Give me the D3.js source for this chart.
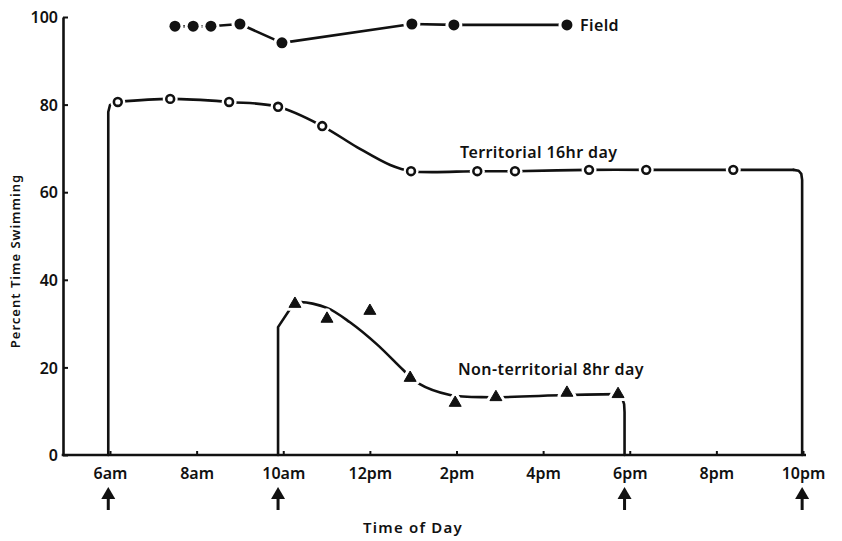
<!DOCTYPE html>
<html>
<head>
<meta charset="utf-8">
<script src="https://cdn.jsdelivr.net/npm/d3@7"></script>
<style>
  html, body { margin: 0; padding: 0; background: #fff; }
  svg { display: block; }
  text { font-family: "Noto Sans", "Open Sans", sans-serif; font-weight: 600; fill: #111; }
</style>
</head>
<body>
<svg id="chart" width="842" height="541"></svg>
<script>
// Hours of the day (6 = 6am, 22 = 10pm) and percent of time spent swimming.
const hourTicks = [6, 8, 10, 12, 14, 16, 18, 20, 22];
const hourTickLabels = ["6am", "8am", "10am", "12pm", "2pm", "4pm", "6pm", "8pm", "10pm"];
const percentTicks = [0, 20, 40, 60, 80, 100];

// Lights on / lights off times (arrows under the axis)
const lightSwitchHours = [5.96, 9.88, 17.88, 21.98];

// Field observations (filled circles)
const fieldHours  = [7.5, 7.92, 8.33, 9.0, 9.97, 12.97, 13.94, 16.55];
const fieldValues = [97.9, 97.9, 97.9, 98.4, 94.1, 98.4, 98.2, 98.2];

// Territorial fish, 16 hr day (open circles)
const terrHours  = [6.18, 7.39, 8.75, 9.88, 10.9, 12.95, 14.48, 15.35, 17.06, 18.38, 20.39];
const terrValues = [80.6, 81.3, 80.6, 79.5, 75.1, 64.8, 64.8, 64.8, 65.1, 65.1, 65.1];
// traced line for the 16 hr day: lights-on rise, smooth run, lights-off drop
const terrRiseHours  = [5.96, 5.96, 6.0, 6.1, 6.18];
const terrRiseValues = [0, 78.3, 79.9, 80.5, 80.6];
const terrRunHours   = [6.18, 7.39, 8.75, 9.88, 10.9, 11.7, 12.47, 12.95, 14.48, 15.35, 17.06, 18.38, 20.39, 21.78];
const terrRunValues  = [80.6, 81.3, 80.6, 79.5, 75.1, 70.3, 66.2, 64.8, 64.8, 64.8, 65.1, 65.1, 65.1, 65.1];
const terrDropHours  = [21.78, 21.9, 21.96, 21.98, 21.98];
const terrDropValues = [65.1, 64.9, 64.2, 62.8, 0];

// Non-territorial fish, 8 hr day (triangles)
const nonTerrHours  = [10.27, 11.01, 12.0, 12.93, 13.97, 14.91, 16.55, 17.73];
const nonTerrValues = [34.5, 31.1, 32.9, 17.6, 11.9, 13.2, 14.2, 13.9];
// fitted line for the 8 hr day
const nonTerrRiseHours  = [9.88, 9.88, 10.23];
const nonTerrRiseValues = [0, 29.2, 34.4];
const nonTerrRunHours   = [10.23, 10.39, 11.01, 11.54, 12.17, 12.77, 13.11, 13.85, 14.78, 16.55, 17.73];
const nonTerrRunValues  = [34.4, 34.9, 33.6, 30.3, 25.2, 19.4, 16.4, 13.7, 13.2, 13.7, 13.9];
const nonTerrDropHours  = [17.73, 17.82, 17.87, 17.88, 17.88];
const nonTerrDropValues = [13.9, 13.1, 11.6, 9.8, 0];

const svg = d3.select("#chart");
const axisLeftX = 63, axisRightX = 806;

const x = d3.scaleLinear().domain([6, 22]).range([110, 803]);
const y = d3.scaleLinear().domain([0, 100]).range([455, 17]);

const ink = "#111";

// ---- axes ----
const gy = svg.append("g").attr("transform", `translate(${axisLeftX},0)`)
  .call(d3.axisLeft(y).tickValues(percentTicks).tickSizeInner(-5).tickSizeOuter(0).tickPadding(5));
gy.select(".domain").attr("stroke", ink).attr("stroke-width", 2.6);
gy.selectAll(".tick line").attr("stroke", ink).attr("stroke-width", 2);
gy.selectAll(".tick text").attr("font-size", 16).attr("dy", "0.36em").attr("fill", ink);

svg.append("line")
  .attr("x1", axisLeftX - 1.3).attr("x2", axisRightX)
  .attr("y1", y(0)).attr("y2", y(0))
  .attr("stroke", ink).attr("stroke-width", 2.6);

const gx = svg.append("g").attr("transform", `translate(0,${y(0)})`)
  .call(d3.axisBottom(x).tickValues(hourTicks)
    .tickFormat((d, i) => hourTickLabels[i])
    .tickSizeInner(-4).tickSizeOuter(0).tickPadding(13));
gx.select(".domain").remove();
gx.selectAll(".tick line").attr("stroke", ink).attr("stroke-width", 2);
gx.selectAll(".tick text").attr("font-size", 16).attr("fill", ink);

// ---- traced lines ----
const zip = (a, b) => a.map((v, i) => [v, b[i]]);
const straight = d3.line().x(d => x(d[0])).y(d => y(d[1])).curve(d3.curveLinear);
const smooth = d3.line().x(d => x(d[0])).y(d => y(d[1])).curve(d3.curveCatmullRom.alpha(0.5));

function drawLine(gen, hours, values) {
  svg.append("path")
    .datum(zip(hours, values))
    .attr("d", gen)
    .attr("fill", "none")
    .attr("stroke", ink)
    .attr("stroke-width", 2.6)
    .attr("stroke-linejoin", "round")
    .attr("stroke-linecap", "round");
}

drawLine(straight, fieldHours, fieldValues);
drawLine(straight, terrRiseHours, terrRiseValues);
drawLine(smooth, terrRunHours, terrRunValues);
drawLine(straight, terrDropHours, terrDropValues);
drawLine(straight, nonTerrRiseHours, nonTerrRiseValues);
drawLine(smooth, nonTerrRunHours, nonTerrRunValues);
drawLine(straight, nonTerrDropHours, nonTerrDropValues);

// ---- markers (white halos break the line around each point) ----
const fieldPts = zip(fieldHours, fieldValues);
svg.append("g").selectAll("circle").data(fieldPts).join("circle")
  .attr("cx", d => x(d[0])).attr("cy", d => y(d[1])).attr("r", 8.5).attr("fill", "#fff");
svg.append("g").selectAll("circle").data(fieldPts).join("circle")
  .attr("cx", d => x(d[0])).attr("cy", d => y(d[1])).attr("r", 5.5).attr("fill", ink);

const terrPts = zip(terrHours, terrValues);
svg.append("g").selectAll("circle").data(terrPts).join("circle")
  .attr("cx", d => x(d[0])).attr("cy", d => y(d[1])).attr("r", 7.5).attr("fill", "#fff");
svg.append("g").selectAll("circle").data(terrPts).join("circle")
  .attr("cx", d => x(d[0])).attr("cy", d => y(d[1])).attr("r", 3.9)
  .attr("fill", "#fff").attr("stroke", ink).attr("stroke-width", 2.6);

const nonTerrPts = zip(nonTerrHours, nonTerrValues);
const tri = d3.symbol().type(d3.symbolTriangle).size(62);
svg.append("g").selectAll("path").data(nonTerrPts).join("path")
  .attr("transform", d => `translate(${x(d[0])},${y(d[1])})`)
  .attr("d", tri).attr("fill", "#fff").attr("stroke", "#fff").attr("stroke-width", 7).attr("stroke-linejoin", "round");
svg.append("g").selectAll("path").data(nonTerrPts).join("path")
  .attr("transform", d => `translate(${x(d[0])},${y(d[1])})`)
  .attr("d", tri).attr("fill", ink).attr("stroke", ink).attr("stroke-width", 1).attr("stroke-linejoin", "round");

// ---- series labels ----
svg.append("text").attr("x", 580).attr("y", 31).attr("font-size", 16).attr("letter-spacing", 0.4).text("Field");
svg.append("text").attr("x", 460).attr("y", 158).attr("font-size", 16).attr("letter-spacing", 0.4).text("Territorial 16hr day");
svg.append("text").attr("x", 458).attr("y", 375).attr("font-size", 16).attr("letter-spacing", 0.4).text("Non-territorial 8hr day");

// ---- arrows marking lights on / off ----
const arrows = svg.append("g").selectAll("g").data(lightSwitchHours).join("g")
  .attr("transform", d => `translate(${x(d)},0)`);
arrows.append("path").attr("d", "M0,487 L7,499 L-7,499 Z").attr("fill", ink);
arrows.append("rect").attr("x", -1.5).attr("y", 497).attr("width", 3).attr("height", 13).attr("fill", ink);

// ---- axis titles ----
svg.append("text")
  .attr("transform", "translate(20,261) rotate(-90)")
  .attr("text-anchor", "middle").attr("font-size", 13).attr("letter-spacing", 1)
  .text("Percent Time Swimming");
svg.append("text")
  .attr("x", 413).attr("y", 533)
  .attr("text-anchor", "middle").attr("font-size", 15).attr("letter-spacing", 1.2)
  .text("Time of Day");
</script>
</body>
</html>
